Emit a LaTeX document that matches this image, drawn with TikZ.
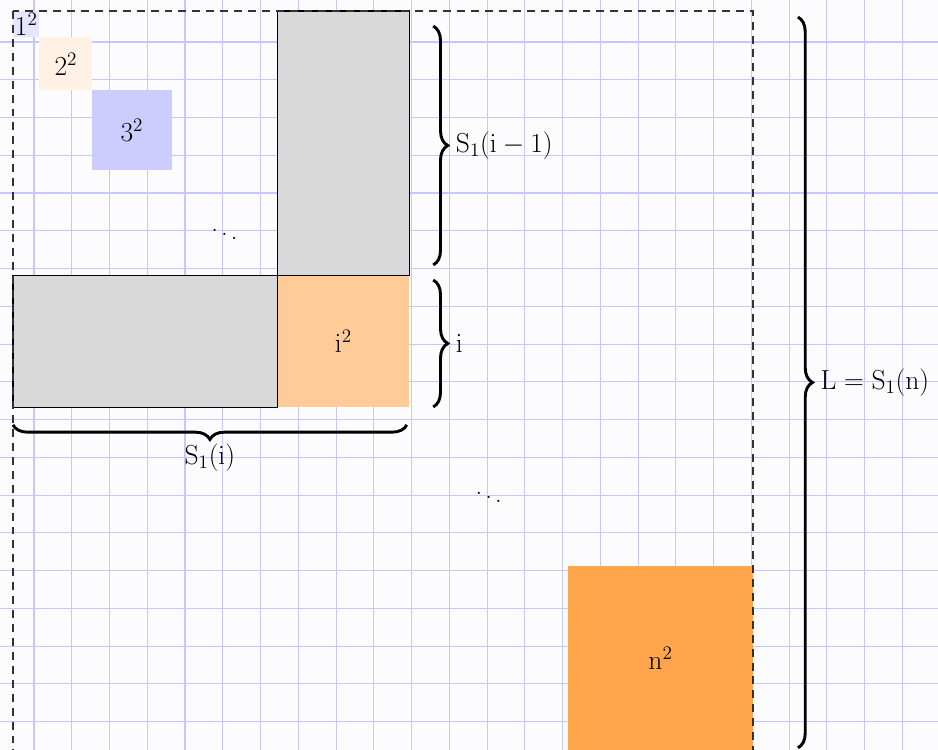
\documentclass[tikz,border=0pt]{standalone}
\usetikzlibrary{decorations.pathreplacing}
\begin{document}
\begin{tikzpicture}[x=0.7cm,y=-0.7cm,
  gridline/.style={blue!22, line width=0.8pt},
  graybox/.style={fill=gray!30, draw=black, line width=0.9pt},
  dashbox/.style={draw=black!80, line width=0.8pt, dash pattern=on 6pt off 4.5pt},
  bracedeco/.style={decorate, decoration={brace, amplitude=11pt}, line width=2.2pt},
  lbl/.style={font=\fontsize{20}{24}\selectfont, inner sep=0pt},
]
\useasboundingbox[fill=blue!1] (-0.492,-0.416) rectangle (35.0,27.96);
% grid
\foreach \k in {0,...,23} \draw[gridline] ({(0.556+\k)/0.7},-0.416) -- ({(0.556+\k)/0.7},27.96);
\foreach \k in {0,...,18} \draw[gridline] (-0.492,{(0.821+\k)/0.7}) -- (35.0,{(0.821+\k)/0.7});
% squares
\fill[blue!10] (0,0) rectangle (1,1);
\fill[orange!10] (1,1) rectangle (3,3);
\fill[blue!20] (3,3) rectangle (6,6);
\fill[orange!40] (10,10) rectangle (15,15);
\draw[graybox] (10,0) rectangle (15,10);
\draw[graybox] (0,10) rectangle (10,15);
\fill[orange!70] (21,21) rectangle (28,28);
\draw[dashbox] (0,0) rectangle (28,28);
% labels in squares
\node[lbl] (t1) at (0.5,0.52) {$1^2$};
\node[lbl] (t2) at (2,2) {$2^2$};
\node[lbl] (t3) at (4.5,4.5) {$3^2$};
\node[lbl] (ti) at (12.5,12.5) {$\mathrm{i}^2$};
\node[lbl] (tn) at (24.5,24.5) {$\mathrm{n}^2$};
\node[lbl] (d1) at (8,8.29) {$\ddots$};
\node[lbl] (d2) at (18,18.27) {$\ddots$};
% braces
\coordinate (b1a) at (15.9,0.57);
\coordinate (b1b) at (15.9,9.61);
\coordinate (b2a) at (15.9,10.18);
\coordinate (b2b) at (15.9,14.98);
\coordinate (bLa) at (29.7,0.23);
\coordinate (bLb) at (29.7,27.88);
\coordinate (bBa) at (14.9,15.66);
\coordinate (bBb) at (0,15.66);
\draw[bracedeco] (b1a) -- (b1b);
\draw[bracedeco] (b2a) -- (b2b);
\draw[bracedeco] (bLa) -- (bLb);
\draw[bracedeco] (bBa) -- (bBb);
\node[lbl, anchor=west] (l1) at (16.75,5.09) {$\mathrm{S}_1(\mathrm{i}-1)$};
\node[lbl, anchor=west] (l2) at (16.75,12.58) {$\mathrm{i}$};
\node[lbl, anchor=west] (lL) at (30.55,14.06) {$\mathrm{L}=\mathrm{S}_1(\mathrm{n})$};
\node[lbl] (lB) at (7.45,16.9) {$\mathrm{S}_1(\mathrm{i})$};
\end{tikzpicture}
\end{document}
